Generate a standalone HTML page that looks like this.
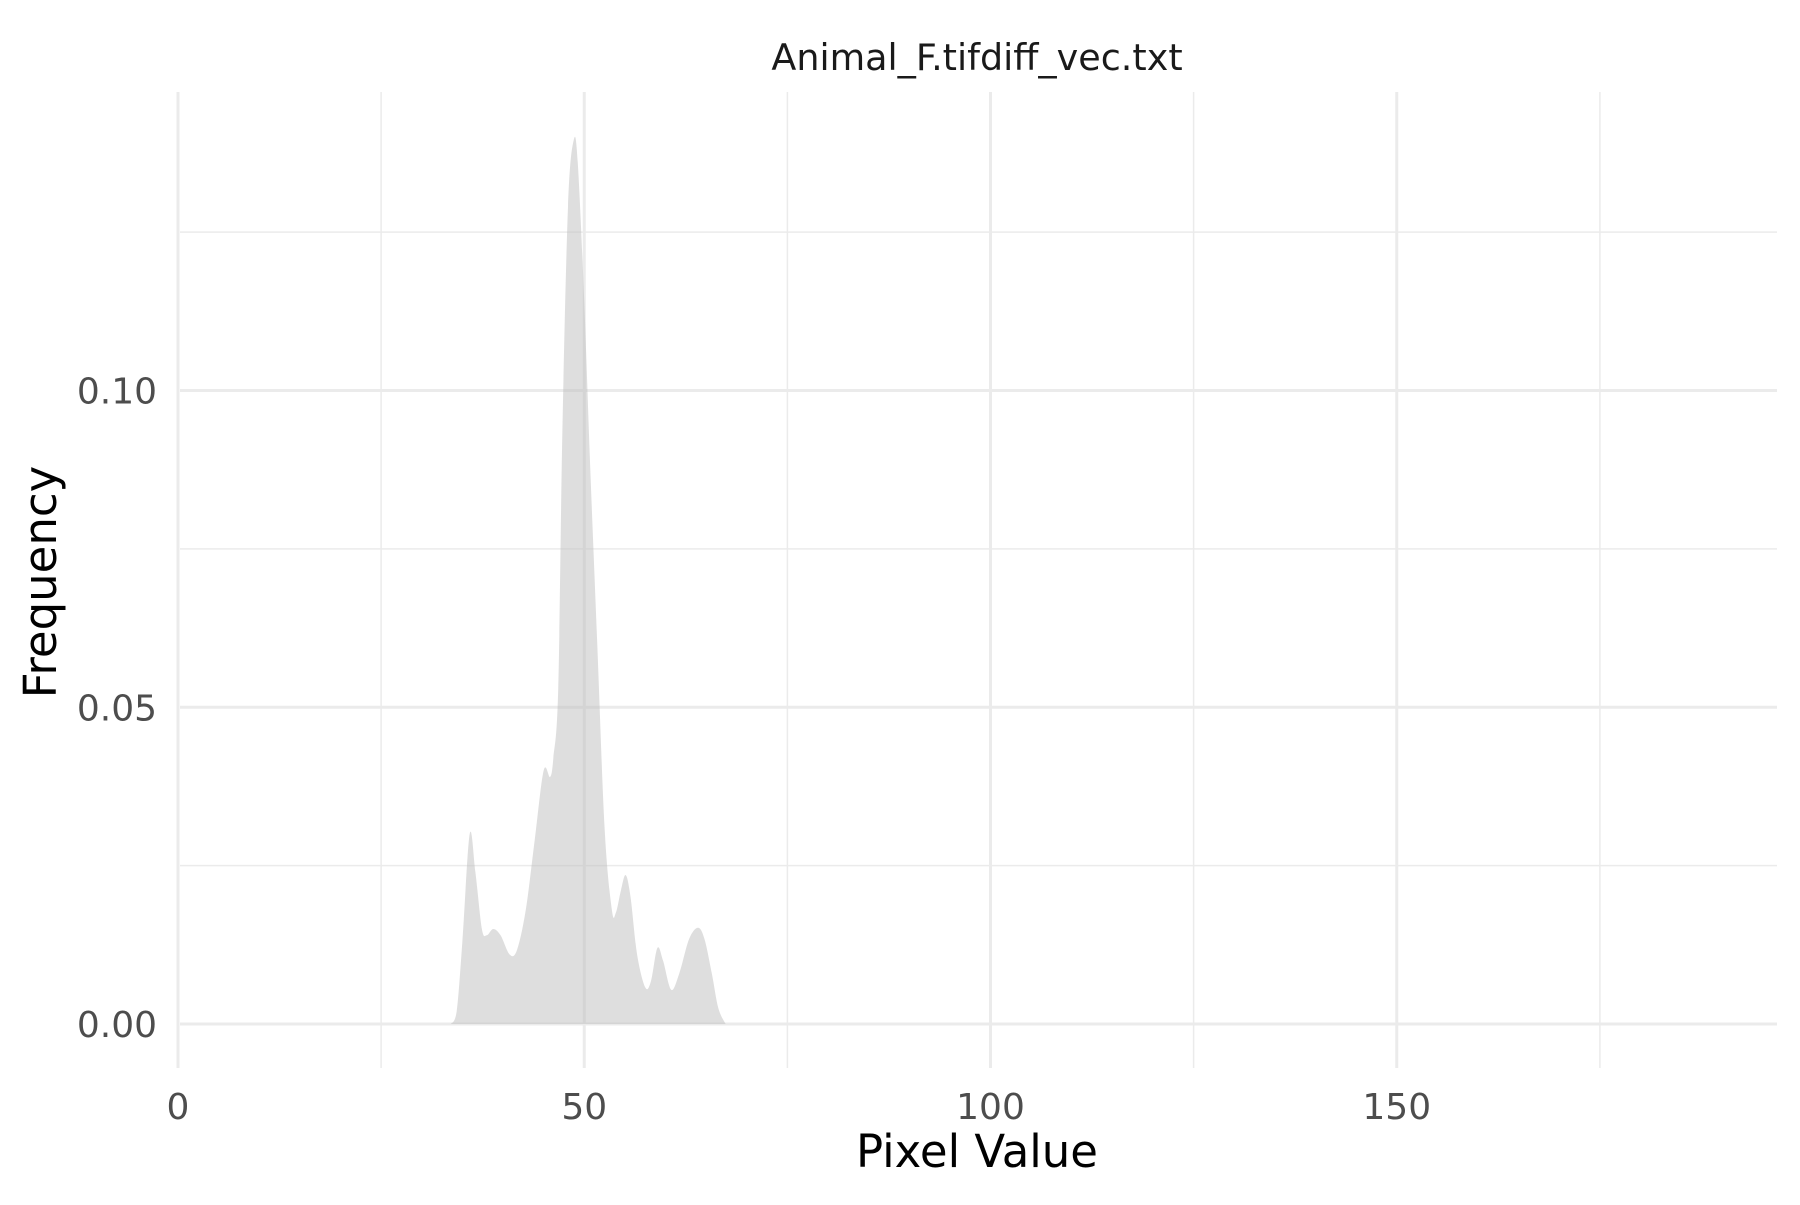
<!DOCTYPE html>
<html><head><meta charset="utf-8"><style>
html,body{margin:0;padding:0;background:#fff;}
svg text{font-family:"DejaVu Sans","Liberation Sans",sans-serif;}
</style></head><body>
<svg id="chart" width="1800" height="1200" viewBox="0 0 1800 1200" xmlns="http://www.w3.org/2000/svg">
<rect width="1800" height="1200" fill="#fff"/>
<g id="grid"></g>
<g id="marks"></g>
<g id="axes"></g>
<text x="977" y="70" text-anchor="middle" font-size="36.5" fill="#1a1a1a">Animal_F.tifdiff_vec.txt</text>
<text x="977" y="1167" text-anchor="middle" font-size="45" fill="#000">Pixel Value</text>
<text transform="translate(56,582) rotate(-90)" text-anchor="middle" font-size="45" fill="#000">Frequency</text>
</svg>
<script>
const xTicks = [0, 50, 100, 150];
const xMinor = [25, 75, 125, 175];
const yTicks = [0, 0.05, 0.10];
const yTickLabels = ["0.00", "0.05", "0.10"];
const yMinor = [0.025, 0.075, 0.125];
const densX = [33.6,34.3,35,35.9,36.6,37.4,38,38.8,39.7,40.8,41.7,42.8,43.9,45,45.8,46.2,46.8,47.3,48,48.7,49.2,50,50.7,51.6,52.5,53.4,53.9,54.5,55.1,55.7,56.5,57.5,58.2,59,59.7,60.7,61.7,62.9,64,64.8,65.7,66.5,67.4];
const densY = [0,0.002,0.013,0.030,0.024,0.015,0.014,0.015,0.014,0.011,0.0116,0.018,0.029,0.040,0.039,0.042,0.053,0.093,0.129,0.1395,0.136,0.114,0.089,0.060,0.031,0.018,0.0176,0.021,0.0235,0.020,0.011,0.0058,0.0067,0.012,0.010,0.0054,0.008,0.0134,0.0152,0.0134,0.008,0.0025,0];

const NS = "http://www.w3.org/2000/svg";
const X0 = 178, XS = 8.125, Y0 = 1024, YS = 6335;
const panelL = 180, panelR = 1777, panelT = 92, panelB = 1068;
const sx = v => X0 + v * XS;
const sy = v => Y0 - v * YS;
const gridG = document.getElementById('grid');
const axesG = document.getElementById('axes');
function gline(parent, x1, y1, x2, y2, w, name) {
  const l = document.createElementNS(NS, 'line');
  l.setAttribute('x1', x1); l.setAttribute('y1', y1);
  l.setAttribute('x2', x2); l.setAttribute('y2', y2);
  l.setAttribute('stroke', '#ebebeb'); l.setAttribute('stroke-width', w);
  
  
  parent.appendChild(l);
}
function gtext(x, y, s, anchor, name) {
  const t = document.createElementNS(NS, 'text');
  t.setAttribute('x', x); t.setAttribute('y', y);
  t.setAttribute('text-anchor', anchor);
  t.setAttribute('font-size', '36'); t.setAttribute('fill', '#4d4d4d');
  t.textContent = s;
  
  
  axesG.appendChild(t);
}
yMinor.forEach(v => gline(gridG, panelL, sy(v), panelR, sy(v), 1.5, 'y-minor-gridline'));
xMinor.forEach(v => gline(gridG, sx(v), panelT, sx(v), panelB, 1.5, 'x-minor-gridline'));
yTicks.forEach((v, i) => {
  gline(gridG, panelL, sy(v), panelR, sy(v), 3, 'y-major-gridline');
  gtext(157, sy(v) + 13, yTickLabels[i], 'end', 'y-tick-label');
});
xTicks.forEach(v => {
  gline(gridG, sx(v), panelT, sx(v), panelB, 3, 'x-major-gridline');
  gtext(sx(v), 1119, String(v), 'middle', 'x-tick-label');
});
const pts = densX.map((x, i) => [sx(x), sy(densY[i])]);
let d = `M${pts[0][0]},${Y0} L${pts[0][0]},${pts[0][1]}`;
for (let i = 0; i < pts.length - 1; i++) {
  const p0 = pts[Math.max(0, i - 1)], p1 = pts[i], p2 = pts[i + 1], p3 = pts[Math.min(pts.length - 1, i + 2)];
  const c1x = p1[0] + (p2[0] - p0[0]) / 6, c1y = Math.min(Y0, p1[1] + (p2[1] - p0[1]) / 6);
  const c2x = p2[0] - (p3[0] - p1[0]) / 6, c2y = Math.min(Y0, p2[1] - (p3[1] - p1[1]) / 6);
  d += ` C${c1x},${c1y} ${c2x},${c2y} ${p2[0]},${p2[1]}`;
}
d += ` L${pts[pts.length - 1][0]},${Y0} Z`;
const area = document.createElementNS(NS, 'path');
area.setAttribute('d', d);
area.setAttribute('fill', 'rgba(190,190,190,0.5)');


document.getElementById('marks').appendChild(area);
</script>
</body></html>
